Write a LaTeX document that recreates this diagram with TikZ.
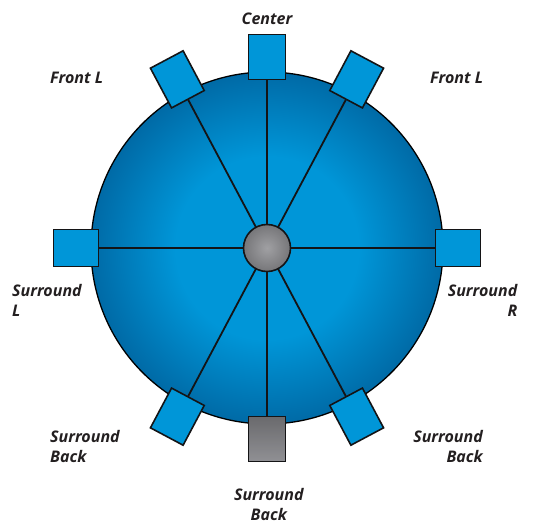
\documentclass[tikz,border=0pt]{standalone}
\usepackage{fontspec}
\setmainfont{Open Sans}
\usetikzlibrary{calc}
\definecolor{sphin}{RGB}{0,150,216}
\definecolor{sphout}{RGB}{0,106,166}
\definecolor{spkblue}{RGB}{0,150,216}
\definecolor{lblc}{RGB}{35,31,32}
\definecolor{edgec}{RGB}{20,20,22}
\definecolor{hubin}{RGB}{160,160,163}
\definecolor{hubout}{RGB}{118,118,121}
\definecolor{backtop}{RGB}{106,106,109}
\definecolor{backbot}{RGB}{144,144,148}
\pgfdeclareradialshading{bigsphere}{\pgfpoint{0bp}{0bp}}{color(0bp)=(sphin); color(13bp)=(sphin); color(25bp)=(sphout); color(50bp)=(sphout)}
\pgfdeclarelayer{bg}
\pgfdeclarelayer{rays}
\pgfsetlayers{bg,rays,main}
\tikzset{
 spk/.style={rectangle, draw=edgec, line width=1.6pt, fill=spkblue, minimum width=37pt, minimum height=45pt, inner sep=0pt},
 ray/.style={draw=edgec, line width=1.8pt},
 lbl/.style={text=lblc, font=\fontsize{16}{20}\selectfont\bfseries\itshape, inner sep=0pt},
}
\begin{document}
\begin{tikzpicture}[x=1pt,y=1pt]
\useasboundingbox (0,0) rectangle (534,525);
\coordinate (O) at (267,277);
\begin{pgfonlayer}{bg}
\node[circle, draw=black, line width=1.3pt, minimum size=352pt, inner sep=0pt, shading=bigsphere] (room) at (O) {};
\end{pgfonlayer}
% speakers
\node[spk, rotate=0]   (sC)  at ($(O)+(90:191)$) {};
\node[spk, rotate=28]  (sFL) at ($(O)+(118:191)$) {};
\node[spk, rotate=-28] (sFR) at ($(O)+(62:191)$) {};
\node[spk, rotate=90]  (sSL) at ($(O)+(180:191)$) {};
\node[spk, rotate=-90] (sSR) at ($(O)+(0:191)$) {};
\node[spk, rotate=152] (sBL) at ($(O)+(242:191)$) {};
\node[spk, rotate=-152] (sBR) at ($(O)+(298:191)$) {};
\node[spk, rotate=0, top color=backtop, bottom color=backbot] (sB) at ($(O)+(270:191)$) {};
\node[circle, draw=edgec, line width=1.6pt, minimum size=47pt, inner sep=0pt, inner color=hubin, outer color=hubout] (hub) at (O) {};
\begin{pgfonlayer}{rays}
\foreach \s in {sC,sFL,sFR,sSL,sSR,sBL,sBR,sB}
  \draw[ray] (hub.center) -- (\s.center);
\end{pgfonlayer}
% labels
\node[lbl, anchor=base] (tC) at (267,500) {Center};
\node[lbl, anchor=base west] (tFL) at (50,441.7) {Front L};
\node[lbl, anchor=base west] (tFR) at (430,441.7) {Front L};
\node[lbl, anchor=north west, align=left] (tSL) at (12,241.2) {Surround\\L};
\node[lbl, anchor=north east, align=right] (tSR) at (517.5,241.2) {Surround\\R};
\node[lbl, anchor=north west, align=left] (tBL) at (50,94.9) {Surround\\Back};
\node[lbl, anchor=north east, align=right] (tBR) at (483,94.9) {Surround\\Back};
\node[lbl, anchor=north, align=center] (tB) at (268.8,36.5) {Surround\\Back};
\end{tikzpicture}
\end{document}
